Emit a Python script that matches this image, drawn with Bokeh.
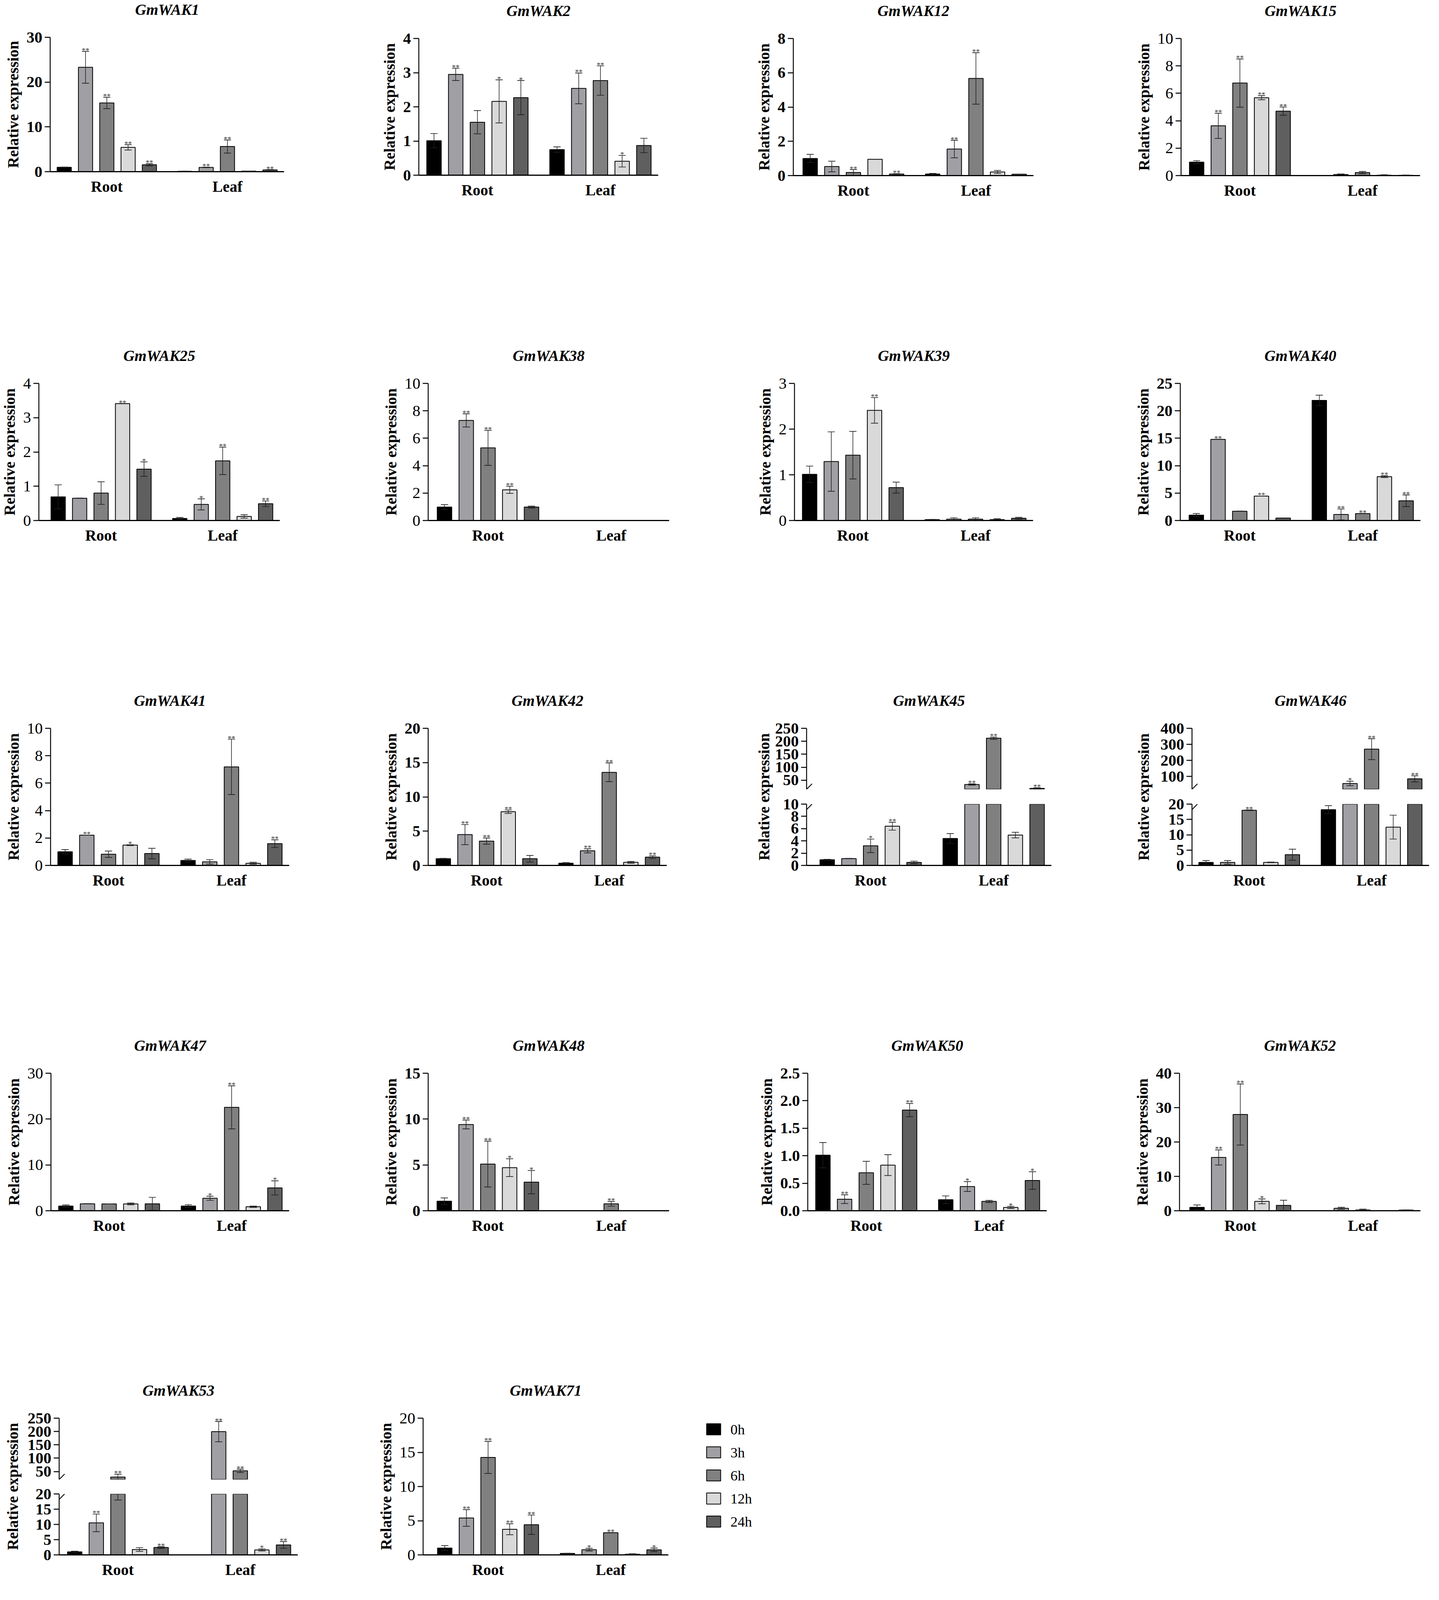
from bokeh.plotting import figure
from bokeh.models import ColumnDataSource, Range1d, FixedTicker, PrintfTickFormatter
from bokeh.layouts import row, column
from bokeh.core.properties import value
from bokeh.embed import file_html
from bokeh.resources import INLINE

# ---------------- data ----------------
times = ["0h", "3h", "6h", "12h", "24h"]
tissues = ["Root", "Leaf"]
time_colors = ["#000000", "#a0a0a4", "#808080", "#d9d9d9", "#5f5f5f"]

# order of values: Root 0h,3h,6h,12h,24h, Leaf 0h,3h,6h,12h,24h
GmWAK1_mean = [0.98, 23.3, 15.35, 5.43, 1.55, 0.09, 0.96, 5.62, 0.12, 0.39]
GmWAK1_err = [0.05, 3.55, 1.28, 0.60, 0.25, 0.02, 0.05, 1.46, 0.02, 0.08]
GmWAK1_sig = ["", "**", "**", "**", "**", "", "**", "**", "", "**"]
GmWAK1_ticks = [0, 10, 20, 30]

GmWAK2_mean = [1.01, 2.95, 1.55, 2.16, 2.27, 0.75, 2.54, 2.77, 0.41, 0.87]
GmWAK2_err = [0.21, 0.18, 0.34, 0.63, 0.50, 0.08, 0.45, 0.43, 0.17, 0.21]
GmWAK2_sig = ["", "**", "", "*", "*", "", "**", "**", "*", ""]
GmWAK2_ticks = [0, 1, 2, 3, 4]

GmWAK12_mean = [1.00, 0.53, 0.18, 0.95, 0.09, 0.09, 1.55, 5.67, 0.21, 0.08]
GmWAK12_err = [0.24, 0.31, 0.17, 0.00, 0.02, 0.04, 0.51, 1.50, 0.09, 0.01]
GmWAK12_sig = ["", "", "**", "", "**", "", "**", "**", "", ""]
GmWAK12_ticks = [0, 2, 4, 6, 8]

GmWAK15_mean = [0.98, 3.63, 6.75, 5.68, 4.70, 0.00, 0.08, 0.22, 0.03, 0.02]
GmWAK15_err = [0.11, 0.92, 1.76, 0.15, 0.30, 0.00, 0.04, 0.08, 0.03, 0.02]
GmWAK15_sig = ["", "**", "**", "**", "**", "", "", "", "", ""]
GmWAK15_ticks = [0, 2, 4, 6, 8, 10]

GmWAK25_mean = [0.69, 0.65, 0.80, 3.41, 1.50, 0.06, 0.47, 1.74, 0.12, 0.49]
GmWAK25_err = [0.35, 0.00, 0.33, 0.00, 0.21, 0.03, 0.16, 0.40, 0.05, 0.08]
GmWAK25_sig = ["", "", "", "**", "*", "", "*", "**", "", "**"]
GmWAK25_ticks = [0, 1, 2, 3, 4]

GmWAK38_mean = [0.98, 7.30, 5.30, 2.24, 0.98, 0.0, 0.0, 0.0, 0.0, 0.0]
GmWAK38_err = [0.18, 0.48, 1.28, 0.26, 0.07, 0.0, 0.0, 0.0, 0.0, 0.0]
GmWAK38_sig = ["", "**", "**", "**", "", "", "", "", "", ""]
GmWAK38_ticks = [0, 2, 4, 6, 8, 10]

GmWAK39_mean = [1.01, 1.29, 1.43, 2.41, 0.72, 0.02, 0.03, 0.03, 0.02, 0.05]
GmWAK39_err = [0.18, 0.65, 0.52, 0.28, 0.12, 0.005, 0.03, 0.03, 0.02, 0.02]
GmWAK39_sig = ["", "", "", "**", "", "", "", "", "", ""]
GmWAK39_ticks = [0, 1, 2, 3]

GmWAK40_mean = [0.98, 14.8, 1.70, 4.46, 0.44, 21.9, 1.10, 1.27, 8.00, 3.60]
GmWAK40_err = [0.29, 0.00, 0.00, 0.00, 0.00, 0.95, 1.00, 0.00, 0.17, 1.06]
GmWAK40_sig = ["", "**", "", "**", "", "", "**", "**", "**", "**"]
GmWAK40_ticks = [0, 5, 10, 15, 20, 25]

GmWAK41_mean = [1.00, 2.21, 0.82, 1.48, 0.87, 0.36, 0.26, 7.19, 0.16, 1.59]
GmWAK41_err = [0.16, 0.00, 0.23, 0.03, 0.38, 0.10, 0.16, 2.02, 0.07, 0.28]
GmWAK41_sig = ["", "**", "", "*", "", "", "", "**", "", "**"]
GmWAK41_ticks = [0, 2, 4, 6, 8, 10]

GmWAK42_mean = [0.98, 4.50, 3.55, 7.84, 0.98, 0.33, 2.13, 13.58, 0.45, 1.21]
GmWAK42_err = [0.05, 1.47, 0.45, 0.25, 0.48, 0.08, 0.30, 1.37, 0.13, 0.20]
GmWAK42_sig = ["", "**", "**", "**", "", "", "**", "**", "", "**"]
GmWAK42_ticks = [0, 5, 10, 15, 20]

GmWAK45_mean = [0.92, 1.12, 3.20, 6.40, 0.50, 4.40, 33.5, 212.0, 4.95, 18.5]
GmWAK45_err = [0.08, 0.03, 1.10, 0.65, 0.20, 0.80, 2.5, 4.5, 0.45, 2.5]
GmWAK45_sig = ["", "", "*", "**", "", "", "**", "**", "", "**"]
GmWAK45_ticks_low = [0, 2, 4, 6, 8, 10]
GmWAK45_ticks_high = [50, 100, 150, 200, 250]

GmWAK46_mean = [1.0, 1.0, 18.0, 1.0, 3.5, 18.2, 56.0, 270.0, 12.5, 85.0]
GmWAK46_err = [0.6, 0.6, 0.1, 0.1, 1.8, 1.3, 14.0, 65.0, 3.9, 19.0]
GmWAK46_sig = ["", "", "**", "", "", "", "*", "**", "", "**"]
GmWAK46_ticks_low = [0, 5, 10, 15, 20]
GmWAK46_ticks_high = [100, 200, 300, 400]

GmWAK47_mean = [1.02, 1.52, 1.49, 1.49, 1.52, 1.02, 2.72, 22.56, 0.88, 4.98]
GmWAK47_err = [0.24, 0.00, 0.00, 0.20, 1.40, 0.30, 0.44, 4.70, 0.14, 1.55]
GmWAK47_sig = ["", "", "", "", "", "", "*", "**", "", "*"]
GmWAK47_ticks = [0, 10, 20, 30]

GmWAK48_mean = [1.04, 9.41, 5.09, 4.70, 3.12, 0.0, 0.0, 0.76, 0.0, 0.02]
GmWAK48_err = [0.36, 0.48, 2.50, 0.97, 1.27, 0.0, 0.0, 0.26, 0.0, 0.0]
GmWAK48_sig = ["", "**", "**", "*", "*", "", "", "**", "", ""]
GmWAK48_ticks = [0, 5, 10, 15]

GmWAK50_mean = [1.01, 0.21, 0.69, 0.83, 1.83, 0.20, 0.44, 0.17, 0.06, 0.55]
GmWAK50_err = [0.23, 0.08, 0.21, 0.19, 0.12, 0.07, 0.09, 0.02, 0.02, 0.16]
GmWAK50_sig = ["", "**", "", "", "**", "", "*", "", "*", "*"]
GmWAK50_ticks = [0.0, 0.5, 1.0, 1.5, 2.0, 2.5]

GmWAK52_mean = [1.00, 15.5, 28.0, 2.73, 1.56, 0.0, 0.70, 0.23, 0.0, 0.20]
GmWAK52_err = [0.70, 2.2, 8.9, 0.70, 1.50, 0.0, 0.30, 0.24, 0.0, 0.05]
GmWAK52_sig = ["", "**", "**", "*", "", "", "", "", "", ""]
GmWAK52_ticks = [0, 10, 20, 30, 40]

GmWAK53_mean = [1.00, 10.5, 29.0, 1.77, 2.42, 0.0, 199.5, 52.5, 1.64, 3.28]
GmWAK53_err = [0.20, 2.9, 11.0, 0.60, 0.30, 0.0, 38.0, 6.2, 0.35, 1.10]
GmWAK53_sig = ["", "**", "**", "", "**", "", "**", "**", "*", "**"]
GmWAK53_ticks_low = [0, 5, 10, 15, 20]
GmWAK53_ticks_high = [50, 100, 150, 200, 250]

GmWAK71_mean = [1.00, 5.40, 14.26, 3.75, 4.41, 0.22, 0.76, 3.25, 0.10, 0.74]
GmWAK71_err = [0.36, 1.22, 2.35, 0.80, 1.42, 0.00, 0.20, 0.00, 0.06, 0.25]
GmWAK71_sig = ["", "**", "**", "**", "**", "", "*", "**", "", "*"]
GmWAK71_ticks = [0, 5, 10, 15, 20]

# ---------------- styling / layout constants ----------------
# layout numbers are in reference-image pixels; the visible page is
# 3685 px wide but shorter than the reference, so vertical positions are scaled.
SY = 0.862
FK = 0.92          # font scale
FONT = "Liberation Serif"


def Y(v):
    return int(round(v * SY))


def fs(v):
    return "%.1fpx" % (v * FK)


STEP = 3.0
GROUP_GAP = 5.0
BAR_W = 2.0
CAP = 0.5
PAD_R = 0.66
x_pos = [ti * (STEP * (len(times) - 1) + GROUP_GAP) + i * STEP
         for ti in range(len(tissues)) for i in range(len(times))]
group_centers = [ti * (STEP * (len(times) - 1) + GROUP_GAP) + STEP * (len(times) - 1) / 2
                 for ti in range(len(tissues))]
X_MAX = x_pos[-1]
bar_colors = time_colors * len(tissues)

COL_EDGES = [9, 929, 1850, 2771, 3677]
ROW_EDGES = [9, 1033, 2058, 3082, 4106, 4701]
TITLE_RISE = 82     # title centre above frame top (reference px)
TOP_KEEP = 26       # canvas kept above each frame for its top tick label
UP_KEEP = 10        # canvas kept below the upper segment of a broken axis
BREAK_DX, BREAK_DY = 14, 14   # size of the axis-break slash, px


def style_fig(p):
    p.outline_line_color = None
    p.background_fill_color = "white"
    p.border_fill_color = "white"
    if p.xgrid:
        p.xgrid.visible = False
    if p.ygrid:
        p.ygrid.visible = False


def style_yaxis(ax, ticks, bold, label, fmt=None):
    ax.ticker = FixedTicker(ticks=ticks)
    if fmt:
        ax.formatter = PrintfTickFormatter(format=fmt)
    ax.minor_tick_line_color = None
    ax.major_tick_out = 14
    ax.major_tick_in = 0
    ax.major_tick_line_width = 2.4
    ax.axis_line_width = 2.4
    ax.major_label_text_font = FONT
    ax.major_label_text_font_size = fs(44)
    ax.major_label_text_font_style = "bold" if bold else "normal"
    ax.major_label_text_color = "black"
    ax.major_label_standoff = 6
    if label:
        ax.axis_label = "Relative expression"
        ax.axis_label_text_font = FONT
        ax.axis_label_text_font_size = fs(43)
        ax.axis_label_text_font_style = "bold"
        ax.axis_label_text_color = "black"
        ax.axis_label_standoff = 9


def style_xaxis(ax):
    ax.ticker = FixedTicker(ticks=group_centers)
    ax.major_label_overrides = {c: t for c, t in zip(group_centers, tissues)}
    ax.minor_tick_line_color = None
    ax.major_tick_line_color = None
    ax.major_tick_out = 0
    ax.major_tick_in = 0
    ax.axis_line_width = 3.2
    ax.major_label_text_font = FONT
    ax.major_label_text_font_size = fs(43)
    ax.major_label_text_font_style = "bold"
    ax.major_label_text_color = "black"
    ax.major_label_standoff = 16


def title_fig(name, width, height, left, right):
    """A thin figure whose frame lines up with the panel's frame and that
    carries the gene name, centred above that frame."""
    t = figure(width=width, height=height, min_border_left=left, min_border_right=right,
               min_border_top=0, min_border_bottom=0, x_range=Range1d(0, 1),
               y_range=Range1d(0, height), x_axis_type=None, y_axis_type=None, title=None,
               output_backend="svg", toolbar_location=None)
    style_fig(t)
    src = ColumnDataSource(dict(x=[0.5], y=[Y(TITLE_RISE) - TOP_KEEP], text=[name]))
    t.text(x="x", y="y", text="text", text_font=value(FONT), text_font_size=fs(43),
           text_font_style="bold italic", text_color="black", text_align="center",
           text_baseline="middle", source=src)
    return t


def draw_bars(p, mean, err, sig, y_lo=None, y_hi=None):
    """Bars, error bars and significance marks, restricted to the visible
    part [y_lo, y_hi] of the value axis (used for broken axes)."""
    lo_lim = 0.0 if y_lo is None else y_lo
    hi_lim = float("inf") if y_hi is None else y_hi
    hi = [m + e for m, e in zip(mean, err)]
    lo = [max(m - e, 0.0) for m, e in zip(mean, err)]

    bars = dict(x=[], top=[], bottom=[], color=[])
    stems = dict(x=[], y0=[], y1=[])
    caps = dict(x0=[], x1=[], y=[])
    marks = dict(x=[], y=[], text=[])
    for x, m, h, l, c, s in zip(x_pos, mean, hi, lo, bar_colors, sig):
        if m > lo_lim:
            bars["x"].append(x)
            bars["top"].append(min(m, hi_lim))
            bars["bottom"].append(lo_lim)
            bars["color"].append(c)
        if h > lo_lim and l < hi_lim and h > l:
            stems["x"].append(x)
            stems["y0"].append(max(l, lo_lim))
            stems["y1"].append(min(h, hi_lim))
        for v in (h, l):
            if lo_lim < v <= hi_lim or (v == lo_lim == 0.0):
                caps["x0"].append(x - CAP)
                caps["x1"].append(x + CAP)
                caps["y"].append(v)
        if s and lo_lim <= h <= hi_lim:
            marks["x"].append(x)
            marks["y"].append(h)
            marks["text"].append(s)

    p.vbar(x="x", top="top", bottom="bottom", width=BAR_W, fill_color="color",
           line_color="black", line_width=2, source=ColumnDataSource(bars))
    p.segment(x0="x", y0="y0", x1="x", y1="y1", line_color="#1e1e1e", line_width=1.5,
              source=ColumnDataSource(stems))
    p.segment(x0="x0", y0="y", x1="x1", y1="y", line_color="#1e1e1e", line_width=1.7,
              source=ColumnDataSource(caps))
    p.text(x="x", y="y", text="text", text_font=value(FONT), text_font_size=fs(21),
           text_color="#333333", text_align="center", text_baseline="alphabetic",
           y_offset=-2, source=ColumnDataSource(marks))


def panel(name, mean, err, sig, ticks, col, rw, geom, bold, fmt=None, cell=None):
    axis_x, right_x, top_y, zero_y, pad_l = geom
    c0, c1 = cell if cell else (COL_EDGES[col], COL_EDGES[col + 1])
    r0, r1 = ROW_EDGES[rw], ROW_EDGES[rw + 1]
    cw = c1 - c0
    rh = Y(r1) - Y(r0)
    left = axis_x - c0
    fw = right_x - axis_x
    right = cw - left - fw
    top = Y(top_y) - Y(r0)
    fh = Y(zero_y) - Y(top_y)
    bottom = rh - top - fh
    th = top - TOP_KEEP
    xr = Range1d(-pad_l * STEP, X_MAX + PAD_R * STEP)
    p = figure(width=cw, height=rh - th, min_border_left=left, min_border_right=right,
               min_border_top=TOP_KEEP, min_border_bottom=bottom,
               x_range=xr, y_range=Range1d(0, ticks[-1]), title=None,
               output_backend="svg", toolbar_location=None)
    style_fig(p)
    style_yaxis(p.yaxis[0], ticks, bold, True, fmt)
    style_xaxis(p.xaxis[0])
    draw_bars(p, mean, err, sig)
    return column(title_fig(name, cw, th, left, right), p, spacing=0)


def break_mark(p, xr, fw, y_edge, y_span, fh, upward):
    """Short slash on the axis where the value axis is interrupted."""
    dx = BREAK_DX * (xr.end - xr.start) / fw
    dy = BREAK_DY * y_span / fh
    y0 = y_edge if upward else y_edge - dy
    p.segment(x0=[xr.start], y0=[y0], x1=[xr.start + dx], y1=[y0 + dy],
              line_color="black", line_width=2.2)


def broken_panel(name, mean, err, sig, ticks_low, ticks_high, low_hi, high_lo,
                 col, rw, geom, split, label_cx, bold=True):
    axis_x, right_x, top_y, zero_y, pad_l = geom
    upper_bottom, lower_top = split
    c0, c1 = COL_EDGES[col], COL_EDGES[col + 1]
    r0, r1 = ROW_EDGES[rw], ROW_EDGES[rw + 1]
    cw = c1 - c0
    rh = Y(r1) - Y(r0)
    lw = label_cx - c0 + 26
    # figure that only carries the shared axis title
    lf = figure(width=lw, height=rh, min_border_left=lw - 2, min_border_right=0,
                min_border_top=Y(top_y) - Y(r0), min_border_bottom=Y(r1) - Y(zero_y),
                x_range=Range1d(0, 1), y_range=Range1d(0, 1), x_axis_type=None, title=None,
                output_backend="svg", toolbar_location=None)
    style_fig(lf)
    ax = lf.yaxis[0]
    ax.ticker = FixedTicker(ticks=[])
    ax.axis_line_color = None
    ax.major_tick_out = 0
    ax.major_tick_in = 0
    ax.minor_tick_line_color = None
    ax.major_label_standoff = 0
    ax.axis_label = "Relative expression"
    ax.axis_label_text_font = FONT
    ax.axis_label_text_font_size = fs(43)
    ax.axis_label_text_font_style = "bold"
    ax.axis_label_text_color = "black"
    ax.axis_label_standoff = 0

    sw = cw - lw
    left = axis_x - c0 - lw
    fw = right_x - axis_x
    right = sw - left - fw
    xr = Range1d(-pad_l * STEP, X_MAX + PAD_R * STEP)
    top = Y(top_y) - Y(r0)
    th = top - TOP_KEEP
    up_fh = Y(upper_bottom) - Y(top_y)
    up_h = TOP_KEEP + up_fh + UP_KEEP
    up = figure(width=sw, height=up_h, min_border_left=left, min_border_right=right,
                min_border_top=TOP_KEEP, min_border_bottom=UP_KEEP,
                x_range=xr, y_range=Range1d(high_lo, ticks_high[-1]), x_axis_type=None,
                title=None, output_backend="svg", toolbar_location=None)
    style_fig(up)
    style_yaxis(up.yaxis[0], ticks_high, bold, False)
    draw_bars(up, mean, err, sig, y_lo=high_lo, y_hi=ticks_high[-1])
    break_mark(up, xr, fw, high_lo, ticks_high[-1] - high_lo, up_fh, True)

    lo_h = rh - th - up_h
    lo_top = Y(lower_top) - Y(upper_bottom) - UP_KEEP
    lo_bottom = Y(r1) - Y(zero_y)
    lo = figure(width=sw, height=lo_h, min_border_left=left, min_border_right=right,
                min_border_top=lo_top, min_border_bottom=lo_bottom,
                x_range=xr, y_range=Range1d(0, low_hi), title=None,
                output_backend="svg", toolbar_location=None)
    style_fig(lo)
    style_yaxis(lo.yaxis[0], ticks_low, bold, False)
    style_xaxis(lo.xaxis[0])
    draw_bars(lo, mean, err, sig, y_lo=0.0, y_hi=low_hi)
    break_mark(lo, xr, fw, low_hi, low_hi, lo_h - lo_top - lo_bottom, False)
    return row(lf, column(title_fig(name, sw, th, left, right), up, lo, spacing=0), spacing=0)


# ---------------- panels ----------------
row0 = row(
    panel("GmWAK1", GmWAK1_mean, GmWAK1_err, GmWAK1_sig, GmWAK1_ticks, 0, 0, (137, 736, 119, 519, 0.66), True),
    panel("GmWAK2", GmWAK2_mean, GmWAK2_err, GmWAK2_sig, GmWAK2_ticks, 1, 0, (1081, 1694, 123, 529, 0.70), True),
    panel("GmWAK12", GmWAK12_mean, GmWAK12_err, GmWAK12_sig, GmWAK12_ticks, 2, 0, (2040, 2655, 123, 530, 0.78), True),
    panel("GmWAK15", GmWAK15_mean, GmWAK15_err, GmWAK15_sig, GmWAK15_ticks, 3, 0, (3033, 3645, 123, 530, 0.72), False),
    spacing=0)
row1 = row(
    panel("GmWAK25", GmWAK25_mean, GmWAK25_err, GmWAK25_sig, GmWAK25_ticks, 0, 1, (104, 725, 1147, 1555, 0.90), False),
    panel("GmWAK38", GmWAK38_mean, GmWAK38_err, GmWAK38_sig, GmWAK38_ticks, 1, 1, (1105, 1722, 1147, 1555, 0.75), False),
    panel("GmWAK39", GmWAK39_mean, GmWAK39_err, GmWAK39_sig, GmWAK39_ticks, 2, 1, (2043, 2654, 1147, 1555, 0.70), False),
    panel("GmWAK40", GmWAK40_mean, GmWAK40_err, GmWAK40_sig, GmWAK40_ticks, 3, 1, (3031, 3646, 1147, 1555, 0.74), True),
    spacing=0)
row2 = row(
    panel("GmWAK41", GmWAK41_mean, GmWAK41_err, GmWAK41_sig, GmWAK41_ticks, 0, 2, (138, 749, 2172, 2579, 0.67), False),
    panel("GmWAK42", GmWAK42_mean, GmWAK42_err, GmWAK42_sig, GmWAK42_ticks, 1, 2, (1105, 1716, 2172, 2579, 0.70), True),
    broken_panel("GmWAK45", GmWAK45_mean, GmWAK45_err, GmWAK45_sig, GmWAK45_ticks_low, GmWAK45_ticks_high,
                 10, 15, 2, 2, (2074, 2701, 2172, 2579, 0.95), (2353, 2397), 1963),
    broken_panel("GmWAK46", GmWAK46_mean, GmWAK46_err, GmWAK46_sig, GmWAK46_ticks_low, GmWAK46_ticks_high,
                 20, 20, 3, 2, (3061, 3668, 2172, 2579, 0.65), (2353, 2397), 2935),
    spacing=0)
row3 = row(
    panel("GmWAK47", GmWAK47_mean, GmWAK47_err, GmWAK47_sig, GmWAK47_ticks, 0, 3, (139, 749, 3196, 3604, 0.69), False),
    panel("GmWAK48", GmWAK48_mean, GmWAK48_err, GmWAK48_sig, GmWAK48_ticks, 1, 3, (1105, 1722, 3196, 3604, 0.74), True),
    panel("GmWAK50", GmWAK50_mean, GmWAK50_err, GmWAK50_sig, GmWAK50_ticks, 2, 3, (2077, 2689, 3196, 3604, 0.70), True, fmt="%.1f"),
    panel("GmWAK52", GmWAK52_mean, GmWAK52_err, GmWAK52_sig, GmWAK52_ticks, 3, 3, (3029, 3646, 3196, 3604, 0.81), True),
    spacing=0)

# legend drawn as its own small figure (pixel-unit ranges, y downward)
LEG_CELL = (1790, 2400)
leg_w = LEG_CELL[1] - LEG_CELL[0]
leg_h = Y(ROW_EDGES[5]) - Y(ROW_EDGES[4])
leg = figure(width=leg_w, height=leg_h, min_border=0,
             x_range=Range1d(0, leg_w), y_range=Range1d(leg_h, 0), title=None,
             x_axis_type=None, y_axis_type=None, output_backend="svg", toolbar_location=None)
style_fig(leg)
SW_X, SW_Y0, PITCH, SW_W, SW_H, GAP = 1818, 4237, 68.5, 36, 33, 25
leg_src = ColumnDataSource(dict(
    label=times, color=time_colors,
    xc=[SW_X + SW_W / 2 - LEG_CELL[0]] * len(times),
    xt=[SW_X + SW_W + GAP - LEG_CELL[0]] * len(times),
    y=[(SW_Y0 + SW_H / 2 + i * PITCH) * SY - Y(ROW_EDGES[4]) for i in range(len(times))]))
leg.rect(x="xc", y="y", width=SW_W, height=SW_H * SY, fill_color="color", line_color="black",
         line_width=2, source=leg_src)
leg.text(x="xt", y="y", text="label", text_font=value(FONT), text_font_size=fs(40),
         text_color="black", text_align="left", text_baseline="middle", source=leg_src)

row4 = row(
    broken_panel("GmWAK53", GmWAK53_mean, GmWAK53_err, GmWAK53_sig, GmWAK53_ticks_low, GmWAK53_ticks_high,
                 20, 20, 0, 4, (160, 771, 4220, 4627, 0.72), (4402, 4446), 39),
    panel("GmWAK71", GmWAK71_mean, GmWAK71_err, GmWAK71_sig, GmWAK71_ticks, 1, 4, (1092, 1720, 4220, 4627, 1.00), False,
          cell=(929, 1790)),
    leg,
    spacing=0)

layout = column(row0, row1, row2, row3, row4, spacing=0)

open("out.html", "w").write(file_html(layout, INLINE))
